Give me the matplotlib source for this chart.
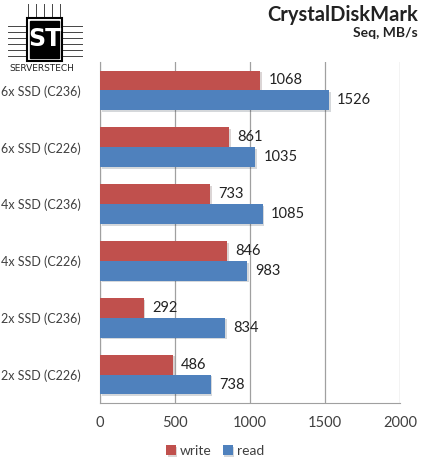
import matplotlib.pyplot as plt
import matplotlib.patheffects as pe
import numpy as np
from matplotlib.patches import Rectangle
from matplotlib.lines import Line2D

plt.rcParams['font.family'] = ['Lato', 'DejaVu Sans']

categories = ["6x SSD (C236)", "6x SSD (C226)", "4x SSD (C236)",
              "4x SSD (C226)", "2x SSD (C236)", "2x SSD (C226)"]
write = [1068, 861, 733, 846, 292, 486]
read = [1526, 1035, 1085, 983, 834, 738]
ticks = [0, 500, 1000, 1500, 2000]

red = "#C0504D"
blue = "#4F81BD"
text_col = "#404040"

fig = plt.figure(figsize=(4.24, 4.61), dpi=100)
ax = fig.add_axes([100 / 424, 1 - 403 / 461, 300 / 424, 341 / 461])

y = np.arange(len(categories))[::-1]
h = 0.35
shadow = [pe.SimplePatchShadow(offset=(1.2, -1.2), alpha=0.18), pe.Normal()]
bw = ax.barh(y + h / 2, write, height=h, color=red, label="write", path_effects=shadow, zorder=3)
br = ax.barh(y - h / 2, read, height=h, color=blue, label="read", path_effects=shadow, zorder=3)
for bars, vals in ((bw, write), (br, read)):
    for b, v in zip(bars, vals):
        ax.text(v + 55, b.get_y() + b.get_height() / 2, str(v), va="center", ha="left",
                fontsize=10.5, color="#222222")

ax.set_xlim(0, 2000)
ax.set_ylim(-0.5, len(categories) - 0.5)
ax.set_xticks(ticks)
ax.set_xticklabels([str(t) for t in ticks], fontsize=10.5, color=text_col)
ax.set_yticks(y)
ax.set_yticklabels(categories, fontsize=9, color=text_col)
ax.tick_params(axis="both", length=0, pad=9)
ax.tick_params(axis="y", pad=14)
ax.xaxis.grid(True, color="#A0A0A0", linewidth=0.9, zorder=0)
for s in ("top", "right"):
    ax.spines[s].set_visible(False)
ax.spines["left"].set_color("#A0A0A0")
ax.spines["bottom"].set_color("#A0A0A0")

fig.text(418 / 424, 1 - 15 / 461, "CrystalDiskMark", ha="right", va="center",
         fontsize=14.5, fontweight="bold", color="#222222")
fig.text(418 / 424, 1 - 33 / 461, "Seq, MB/s", ha="right", va="center",
         fontsize=10, fontweight="bold", color="#222222")

# simple logo: chip with circuit traces
W, H = 424, 461
for yy in (26, 32, 38, 44, 50, 56):
    for x0, x1 in ((8, 27), (62, 82)):
        fig.lines.append(Line2D([x0 / W, x1 / W], [1 - yy / H, 1 - yy / H],
                                transform=fig.transFigure, color="#444444", linewidth=0.7))
for xx in (28, 36, 44, 52, 60):
    fig.lines.append(Line2D([xx / W, xx / W], [1 - 4 / H, 1 - 18 / H],
                            transform=fig.transFigure, color="#444444", linewidth=0.7))
fig.patches.append(Rectangle((27 / W, 1 - 61 / H), 35 / W, 43 / H,
                             transform=fig.transFigure, facecolor="white", edgecolor="black",
                             linewidth=1.5, zorder=5))
fig.patches.append(Rectangle((30 / W, 1 - 58 / H), 29 / W, 37 / H,
                             transform=fig.transFigure, facecolor="black", edgecolor="black",
                             zorder=6))
fig.text(44.5 / W, 1 - 39.5 / H, "ST", ha="center", va="center", fontsize=17,
         fontweight="bold", color="white", family="DejaVu Sans Condensed", zorder=7)
fig.text(42 / W, 1 - 68 / H, "SERVERSTECH", ha="center", va="center", fontsize=6.5,
         color="#222222", family="DejaVu Sans")

fig.legend(handles=[bw, br], labels=["write", "read"], loc="center",
           bbox_to_anchor=(215 / 424, 1 - 451 / 461), ncol=2, frameon=False,
           fontsize=10, handlelength=0.7, handleheight=0.7, handletextpad=0.3,
           columnspacing=0.8, labelcolor=text_col)

fig.savefig("out.png", dpi=100)
